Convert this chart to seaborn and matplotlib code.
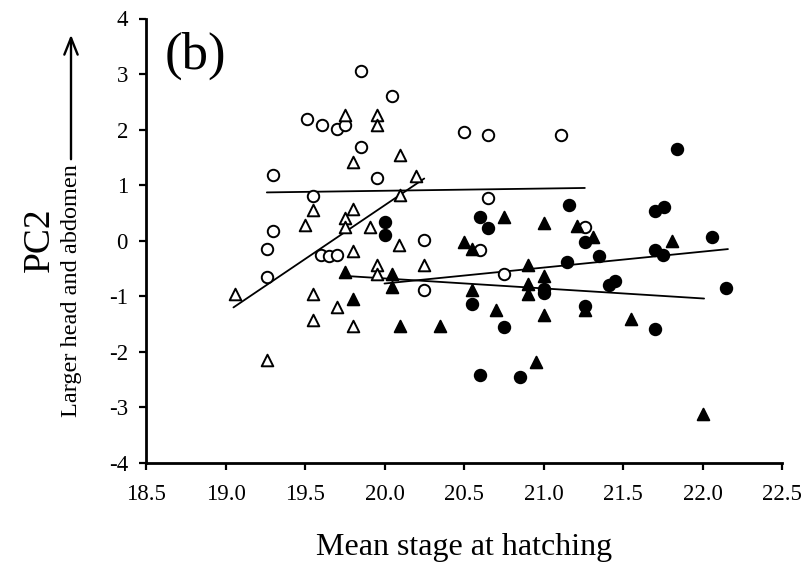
import matplotlib
matplotlib.use("Agg")
import matplotlib.pyplot as plt
import seaborn as sns
import pandas as pd

# Mean stage at hatching (x) and PC2 score (y) for each clutch, by group
open_circle_x = [19.51, 19.61, 19.70, 19.75, 19.85, 19.85, 20.05, 19.95, 19.30, 19.55,
                 19.30, 19.26, 19.60, 19.65, 19.70, 19.26, 20.50, 20.65, 21.11, 20.65,
                 21.26, 20.25, 20.60, 20.75, 20.25]
open_circle_y = [2.19, 2.08, 2.02, 2.08, 3.05, 1.68, 2.60, 1.13, 1.18, 0.80,
                 0.17, -0.14, -0.26, -0.28, -0.26, -0.66, 1.96, 1.91, 1.90, 0.77,
                 0.25, 0.02, -0.17, -0.60, -0.89]

open_triangle_x = [19.75, 19.95, 19.95, 19.80, 20.10, 19.55, 19.80, 19.75, 19.75, 19.50,
                   19.91, 19.80, 20.09, 19.95, 19.95, 19.06, 19.55, 19.70, 19.55, 19.80,
                   20.20, 20.10, 20.25, 19.26]
open_triangle_y = [2.26, 2.27, 2.09, 1.42, 1.54, 0.56, 0.58, 0.41, 0.24, 0.28,
                   0.24, -0.18, -0.08, -0.44, -0.59, -0.96, -0.95, -1.19, -1.43, -1.54,
                   1.16, 0.83, -0.44, -2.14]

filled_circle_x = [20.00, 20.00, 21.84, 21.16, 21.70, 21.76, 20.60, 20.65, 21.26, 21.35,
                   21.70, 21.75, 21.15, 21.00, 21.00, 21.41, 21.45, 20.55, 20.75, 21.26,
                   21.70, 20.60, 20.85, 22.06, 22.15]
filled_circle_y = [0.33, 0.10, 1.66, 0.64, 0.53, 0.61, 0.42, 0.23, -0.03, -0.28,
                   -0.17, -0.26, -0.39, -0.86, -0.94, -0.80, -0.73, -1.13, -1.55, -1.18,
                   -1.58, -2.42, -2.46, 0.07, -0.85]

filled_triangle_x = [19.75, 20.05, 20.05, 19.80, 20.10, 20.75, 21.00, 21.21, 21.31, 20.50,
                     20.55, 21.81, 20.90, 21.00, 20.55, 20.90, 20.90, 20.70, 20.35, 21.00,
                     21.26, 21.55, 20.95, 22.00]
filled_triangle_y = [-0.56, -0.60, -0.83, -1.04, -1.54, 0.43, 0.32, 0.26, 0.07, -0.02,
                     -0.14, 0.00, -0.44, -0.64, -0.88, -0.77, -0.96, -1.24, -1.54, -1.34,
                     -1.25, -1.40, -2.18, -3.11]

# Fitted regression lines for each group (end points over the fitted range)
fit_open_circle_x = [19.26, 21.26]
fit_open_circle_y = [0.87, 0.95]
fit_open_triangle_x = [19.05, 20.25]
fit_open_triangle_y = [-1.20, 1.12]
fit_filled_circle_x = [20.00, 22.16]
fit_filled_circle_y = [-0.77, -0.15]
fit_filled_triangle_x = [19.79, 22.01]
fit_filled_triangle_y = [-0.64, -1.04]

x_ticks = [18.5, 19.0, 19.5, 20.0, 20.5, 21.0, 21.5, 22.0, 22.5]
y_ticks = [-4, -3, -2, -1, 0, 1, 2, 3, 4]

sns.set_theme(style="ticks")
plt.rcParams["font.family"] = ["Liberation Serif", "DejaVu Serif"]
plt.rcParams["axes.unicode_minus"] = False

fig = plt.figure(figsize=(8.06, 5.78), dpi=100)
ax = fig.add_axes([146 / 806, 1 - 463 / 578, 636 / 806, (463 - 18.5) / 578])

groups = [
    (open_circle_x, open_circle_y, "o", "white"),
    (open_triangle_x, open_triangle_y, "^", "white"),
    (filled_circle_x, filled_circle_y, "o", "black"),
    (filled_triangle_x, filled_triangle_y, "^", "black"),
]
for gx, gy, marker, face in groups:
    df = pd.DataFrame({"stage": gx, "pc2": gy})
    size = 68 if marker == "o" else 70
    sns.scatterplot(data=df, x="stage", y="pc2", marker=marker, s=size,
                    facecolor=face, edgecolor="black", linewidth=1.4,
                    ax=ax, zorder=3)

fits = [
    (fit_open_circle_x, fit_open_circle_y),
    (fit_open_triangle_x, fit_open_triangle_y),
    (fit_filled_circle_x, fit_filled_circle_y),
    (fit_filled_triangle_x, fit_filled_triangle_y),
]
for fx, fy in fits:
    sns.lineplot(x=fx, y=fy, color="black", linewidth=1.3, ax=ax,
                 estimator=None, zorder=2)

ax.set_xlim(18.5, 22.5)
ax.set_ylim(-4, 4)
ax.set_xticks(x_ticks)
ax.set_xticklabels([f"{v:.1f}" for v in x_ticks])
ax.set_yticks(y_ticks)
ax.set_yticklabels([str(v) for v in y_ticks])
ax.tick_params(axis="both", which="major", labelsize=16.5, color="black",
               labelcolor="black", width=1.6, length=5, direction="out")
ax.tick_params(axis="x", pad=10)
ax.tick_params(axis="y", pad=8)
for side in ("top", "right"):
    ax.spines[side].set_visible(False)
for side in ("left", "bottom"):
    ax.spines[side].set_linewidth(2.0)
    ax.spines[side].set_color("black")
ax.set_xlabel("")
ax.set_ylabel("")

ax.text(18.62, 3.1, "(b)", fontsize=38, color="black", ha="left", va="baseline")

fig.text(464 / 806, 1 - 548 / 578, "Mean stage at hatching", fontsize=23,
         ha="center", va="center", color="black")
fig.text(40 / 806, 1 - 240 / 578, "PC2", fontsize=27, rotation=90,
         ha="center", va="center", color="black")
fig.text(71 / 806, 1 - 417 / 578, "Larger head and abdomen", fontsize=17.5,
         rotation=90, ha="center", va="bottom", color="black")
# upward arrow continuing the rotated label
ax.annotate("", xy=(71 / 806, 1 - 32 / 578), xytext=(71 / 806, 1 - 162 / 578),
            xycoords="figure fraction", textcoords="figure fraction",
            arrowprops=dict(arrowstyle="->,head_length=1.0,head_width=0.4",
                            color="black", lw=1.7), annotation_clip=False)

fig.savefig("out.png", dpi=100)
